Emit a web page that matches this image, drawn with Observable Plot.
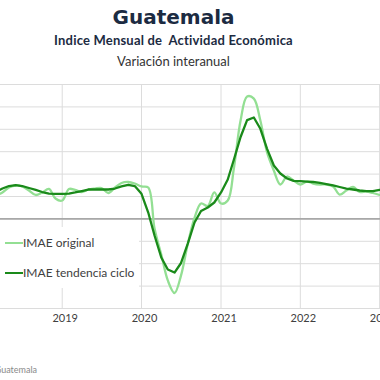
<!DOCTYPE html>
<html>
<head>
<meta charset="utf-8">
<script src="https://cdn.jsdelivr.net/npm/d3@7"></script>
<script src="https://cdn.jsdelivr.net/npm/@observablehq/plot@0.6"></script>
<style>
  html, body { margin: 0; padding: 0; background: #fff; }
  body { width: 380px; height: 380px; position: relative; overflow: hidden; }
  .t { position: absolute; left: 0; width: 347px; text-align: center; white-space: nowrap; }
  #title { top: 5px; font: bold 20px/24px "DejaVu Sans", sans-serif; color: #1c2b42; }
  #sub1 { top: 32px; font: bold 13px/17px Lato, sans-serif; letter-spacing: 0.2px; color: #1c2b42; }
  #sub2 { top: 53px; font: 13px/17px Lato, sans-serif; color: #333; }
  #chart { position: absolute; left: 0; top: 70px; }
  #legend { position: absolute; left: 0; top: 227px; width: 139px; height: 61px; background: #fff; }
  .row { position: absolute; left: 0; height: 16px; font: 12px/16px Lato, sans-serif; color: #404040; white-space: nowrap; }
  .sw { display: inline-block; width: 18px; height: 2.4px; vertical-align: middle; margin-left: 5px; margin-right: 0; position: relative; top: -1px; }
  #caption { position: absolute; right: 343px; top: 364px; font: 9px/12px Lato, sans-serif; color: #8a8a8a; white-space: nowrap; }
</style>
</head>
<body>
<div class="t" id="title">Guatemala</div>
<div class="t" id="sub1">Indice Mensual de&nbsp; Actividad Económica</div>
<div class="t" id="sub2">Variación interanual</div>
<div id="chart"></div>
<div id="legend">
  <div class="row" style="top:8px"><span class="sw" style="background:#93df93"></span>IMAE original</div>
  <div class="row" style="top:38px"><span class="sw" style="background:#1a8a1a"></span>IMAE tendencia ciclo</div>
</div>
<div id="caption">Fuente: Banco de Guatemala</div>
<script>
// Months: Feb 2018 .. Jan 2023
const firstMonth = "2018-02";
const lastMonth = "2023-01";

// IMAE original, year-on-year %
const original = [
  2.30, 2.61, 2.95, 3.50, 3.73, 3.62, 3.17, 2.67, 2.95, 3.34, 2.28,
  2.05, 3.34, 3.23, 3.00, 3.28, 3.39, 3.45, 2.89, 3.50, 4.01, 4.12, 3.95,
  3.62, 3.50, -1.07, -3.98, -6.87, -8.27, -6.30, -2.80, 0.10, 1.72, 1.44, 2.95,
  1.72, 2.05, 5.62, 10.98, 13.66, 13.43, 10.98, 7.41, 5.40, 3.84, 4.73, 4.29,
  3.84, 4.17, 3.95, 3.84, 3.84, 3.62, 2.72, 3.17, 3.56, 3.00, 3.06, 2.89,
  2.67
];

// IMAE tendencia ciclo, year-on-year %
const trend = [
  2.72, 3.00, 3.39, 3.67, 3.78, 3.67, 3.45, 3.23, 3.00, 2.83, 2.80,
  2.80, 2.83, 2.95, 3.11, 3.28, 3.28, 3.28, 3.28, 3.39, 3.62, 3.81, 3.67,
  2.80, 0.71, -1.85, -4.31, -5.65, -5.99, -4.92, -2.75, -0.40, 0.88, 1.27, 1.83,
  2.95, 4.40, 6.60, 9.14, 11.03, 11.32, 10.06, 7.82, 5.96, 5.07, 4.51, 4.25,
  4.21, 4.17, 4.12, 4.01, 3.89, 3.73, 3.56, 3.39, 3.28, 3.17, 3.11, 3.11,
  3.23
];

const yearTicks = ["2019", "2020", "2021", "2022", "2023"];
const yTicks = [-10, -7.5, -5, -2.5, 0, 2.5, 5, 7.5, 10, 12.5, 15];

const months = d3.utcMonth.range(new Date(firstMonth + "-01"), d3.utcMonth.offset(new Date(lastMonth + "-01"), 1));
const dataOrig = months.map((d, i) => ({date: d, value: original[i]}));
const dataTrend = months.map((d, i) => ({date: d, value: trend[i]}));
const yearDates = yearTicks.map(y => new Date(y + "-01-01"));

const chart = Plot.plot({
  width: 380,
  height: 270,
  marginTop: 14,
  marginBottom: 32,
  marginLeft: 0,
  marginRight: 0,
  style: {background: "transparent", overflow: "hidden"},
  x: {type: "utc", domain: [new Date("2018-03-23"), new Date("2023-01-05")], axis: null},
  y: {domain: [-10, 15], axis: null},
  marks: [
    Plot.ruleY(yTicks, {stroke: "#dcdcdc", strokeWidth: 1}),
    Plot.ruleX(yearDates, {stroke: "#dcdcdc", strokeWidth: 1}),
    Plot.ruleY([0], {stroke: "#a8a8a8", strokeWidth: 1.6}),
    Plot.line(dataOrig, {x: "date", y: "value", stroke: "#93df93", strokeWidth: 2.3, curve: "catmull-rom", clip: true}),
    Plot.line(dataTrend, {x: "date", y: "value", stroke: "#1a8a1a", strokeWidth: 2.3, curve: "linear", clip: true}),
    Plot.text(yearDates, {x: d => d, text: d => d3.utcFormat("%Y")(d), frameAnchor: "bottom", dy: 13, dx: 3,
      fontSize: 11, fill: "#404040", fontFamily: "Lato"})
  ]
});
document.getElementById("chart").appendChild(chart);
</script>
</body>
</html>
